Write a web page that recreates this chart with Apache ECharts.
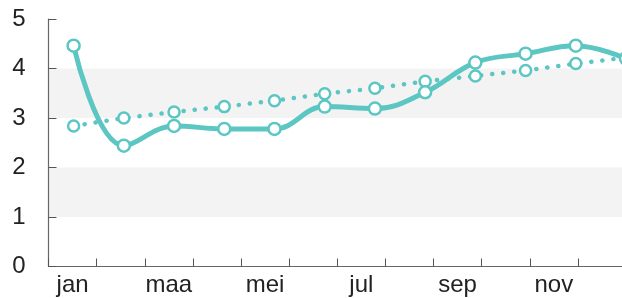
<!DOCTYPE html>
<html>
<head>
<meta charset="utf-8">
<script src="https://cdn.jsdelivr.net/npm/echarts@6/dist/echarts.min.js"></script>
<style>
  html, body { margin: 0; padding: 0; background: #fff; }
  #chart { width: 622px; height: 298px; }
</style>
</head>
<body>
<div id="chart"></div>
<script>
// maanden en waarden
const months = ['jan', 'feb', 'maa', 'apr', 'mei', 'jun', 'jul', 'aug', 'sep', 'okt', 'nov', 'dec']
const actual = [4.46, 2.44, 2.84, 2.78, 2.78, 3.23, 3.19, 3.52, 4.12, 4.30, 4.46, 4.20]
const trend = [2.84, 3.00, 3.12, 3.23, 3.35, 3.49, 3.60, 3.74, 3.85, 3.96, 4.10, 4.22]
const yTicks = [0, 1, 2, 3, 4, 5]

const teal = '#5bc6c2'
const chart = echarts.init(document.getElementById('chart'))

const toPoints = arr => arr.map((v, i) => [i, v])

const option = {
  animation: false,
  grid: { left: 48.5, right: -4, top: 19, bottom: 31.5, outerBoundsMode: 'none' },
  xAxis: [
    {
      type: 'category',
      data: months,
      boundaryGap: true,
      axisLine: { lineStyle: { color: '#666', width: 1.2 } },
      axisTick: { show: true, inside: true, length: 8, interval: 0, lineStyle: { color: '#555' } },
      axisLabel: {
        interval: 1,
        margin: 7,
        color: '#222',
        fontSize: 24,
        fontFamily: 'Liberation Sans'
      }
    },
    {
      // verborgen as voor de punten
      type: 'value',
      min: -0.5,
      max: 11,
      show: false
    }
  ],
  yAxis: {
    type: 'value',
    min: yTicks[0],
    max: yTicks[yTicks.length - 1],
    interval: 1,
    axisLine: { show: true, onZero: false, lineStyle: { color: '#666', width: 1.2 } },
    axisTick: { show: true, inside: true, length: 8, lineStyle: { color: '#555' } },
    axisLabel: {
      margin: 23,
      color: '#222',
      fontSize: 24,
      padding: [6, 0, 0, 0],
      fontFamily: 'Liberation Sans'
    },
    splitLine: { show: false },
    splitArea: {
      show: true,
      areaStyle: { color: ['rgba(255,255,255,0)', '#f3f3f3'] }
    }
  },
  series: [
    {
      name: 'trend',
      type: 'line',
      xAxisIndex: 1,
      data: toPoints(trend),
      symbol: 'circle',
      symbolSize: 11,
      itemStyle: { color: '#fff', borderColor: teal, borderWidth: 2.5 },
      lineStyle: { color: teal, width: 4.5, type: [0.1, 11], cap: 'round' },
      z: 2
    },
    {
      name: 'actual',
      type: 'line',
      xAxisIndex: 1,
      data: toPoints(actual),
      smooth: 0.4,
      symbol: 'circle',
      symbolSize: 12,
      itemStyle: { color: '#fff', borderColor: teal, borderWidth: 2.5 },
      lineStyle: { color: teal, width: 5 },
      z: 3
    }
  ]
}
chart.setOption(option)
</script>
</body>
</html>
